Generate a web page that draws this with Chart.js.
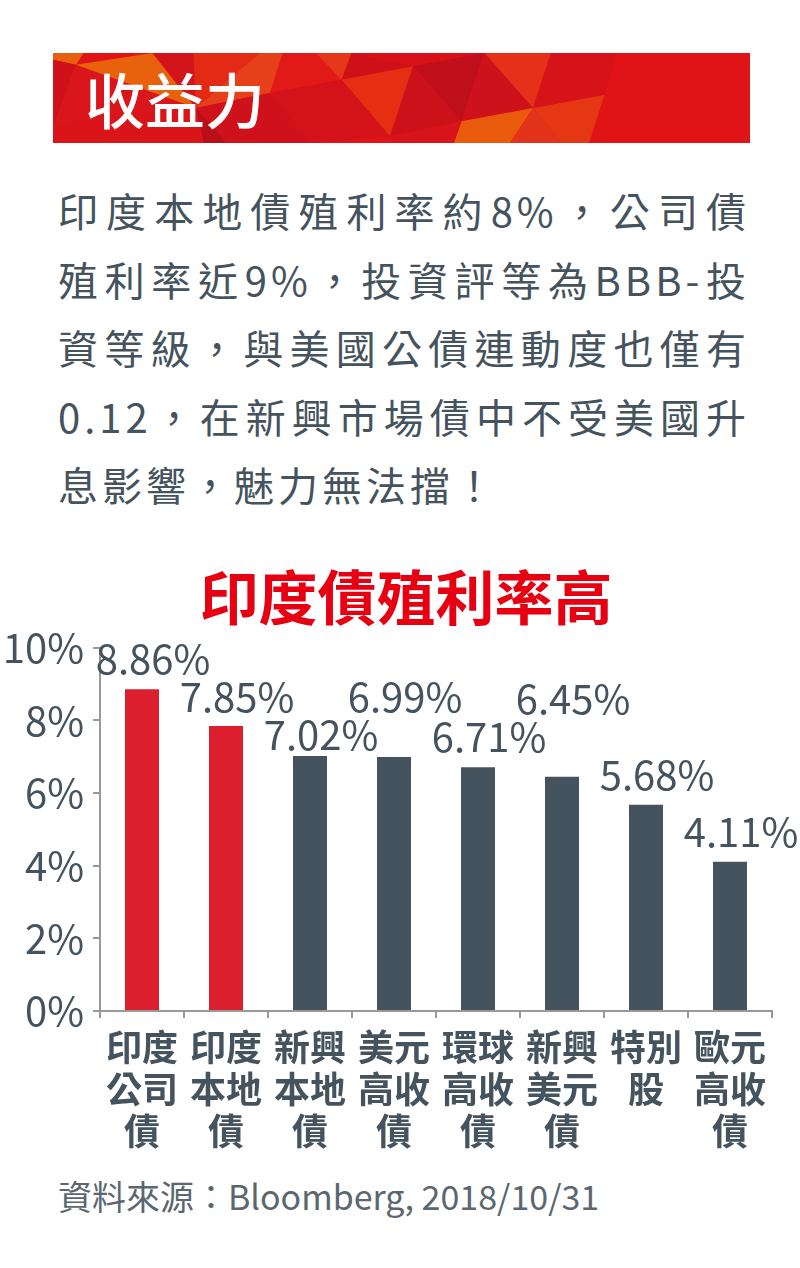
<!DOCTYPE html>
<html>
<head>
<meta charset="utf-8">
<script src="https://cdn.jsdelivr.net/npm/chart.js@4.4.0/dist/chart.umd.min.js"></script>
<style>
  body { margin:0; background:#fff; width:800px; height:1268px; position:relative; overflow:hidden;
         font-family:"Noto Sans CJK TC","Noto Sans",sans-serif; }
  #banner { position:absolute; left:53px; top:53px; width:697px; height:90px; }
  #banner svg { position:absolute; left:0; top:0; }
  #banner span { position:absolute; left:32px; top:8px; font-size:60px; line-height:74px; color:#fff; font-weight:500; }
  #intro { position:absolute; left:58px; top:176px; width:692px; color:#45535e; font-size:40px; line-height:68.5px; font-weight:400; }
  #intro div { text-align:justify; text-align-last:justify; letter-spacing:4px; }
  #intro div.last { text-align-last:left; }
  #chartBox { position:absolute; left:0; top:540px; width:800px; height:630px; }
  #source { position:absolute; left:58px; top:1171px; font-size:34px; color:#5b6770; }
</style>
</head>
<body>
<div id="banner">
  <svg width="697" height="90" viewBox="105 40 1365 270" preserveAspectRatio="none">
    <rect x="105" y="40" width="1365" height="270" fill="#e01317"/>
    <polygon points="105,40 165,40 150,75 105,60" fill="#e8600f"/>
    <polygon points="105,60 150,75 105,260" fill="#cf1119"/>
    <polygon points="150,75 385,205 105,260" fill="#d8161b"/>
    <polygon points="150,75 300,40 385,205" fill="#e8620e"/>
    <polygon points="300,40 380,40 385,205" fill="#d4141b"/>
    <polygon points="380,40 510,40 385,205" fill="#e32a14"/>
    <polygon points="510,40 555,40 530,160 385,205" fill="#e6401a"/>
    <polygon points="385,205 530,160 610,310 445,310" fill="#ce111a"/>
    <polygon points="385,205 445,310 400,310" fill="#b90f18"/>
    <polygon points="105,260 385,205 400,310 105,310" fill="#da1519"/>
    <polygon points="555,40 620,40 670,120 530,160" fill="#e11a17"/>
    <polygon points="620,40 690,40 670,120" fill="#e5381a"/>
    <polygon points="690,40 810,80 670,120" fill="#ce1019"/>
    <polygon points="670,120 810,80 765,290" fill="#e52e12"/>
    <polygon points="530,160 670,120 765,290 610,310" fill="#d31319"/>
    <polygon points="810,80 905,245 765,290" fill="#cd111a"/>
    <polygon points="690,40 950,40 810,80" fill="#d81118"/>
    <polygon points="810,80 950,40 905,245" fill="#bf0f1a"/>
    <polygon points="950,40 1080,40 1045,205" fill="#e5311a"/>
    <polygon points="950,40 1045,205 905,245" fill="#ce121b"/>
    <polygon points="905,245 1045,205 1000,310 890,310" fill="#e95a0d"/>
    <polygon points="765,290 905,245 890,310 770,310" fill="#d7141a"/>
    <polygon points="1045,205 1100,310 1000,310" fill="#e3331a"/>
    <polygon points="1045,205 1185,165 1155,310 1100,310" fill="#e53714"/>
    <polygon points="1080,40 1210,40 1185,165 1045,205" fill="#d7131a"/>
  </svg>
  <span>收益力</span>
</div>

<div id="intro">
  <div>印度本地債殖利率約8%，公司債</div>
  <div>殖利率近9%，投資評等為BBB-投</div>
  <div>資等級，與美國公債連動度也僅有</div>
  <div>0.12，在新興市場債中不受美國升</div>
  <div class="last">息影響，魅力無法擋！</div>
</div>

<div id="chartBox"><canvas id="chartYield" width="800" height="630"></canvas></div>
<div id="source">資料來源：Bloomberg, 2018/10/31</div>

<script>
// les donnees
const chartTitle = '印度債殖利率高';
const categories = [
    ['印度', '公司', '債'],
    ['印度', '本地', '債'],
    ['新興', '本地', '債'],
    ['美元', '高收', '債'],
    ['環球', '高收', '債'],
    ['新興', '美元', '債'],
    ['特別', '股'],
    ['歐元', '高收', '債']
];
const yields = [8.86, 7.85, 7.02, 6.99, 6.71, 6.45, 5.68, 4.11];
const yTicks = [0, 2, 4, 6, 8, 10];

const red = '#dc1f2e';
const slate = '#45535e';
const font = '"Noto Sans CJK TC", "Noto Sans", sans-serif';
let barColors = yields.map((v, i) => i < 2 ? red : slate);

// etiquettes au-dessus des barres, decalees si elles se chevauchent
const valueLabels = {
    id: 'valueLabels',
    afterDatasetsDraw(chart) {
        const ctx = chart.ctx;
        const bars = chart.getDatasetMeta(0).data;
        const row = 38;
        ctx.save();
        ctx.font = '40px ' + font;
        ctx.fillStyle = slate;
        ctx.textAlign = 'center';
        ctx.textBaseline = 'alphabetic';
        let prev = null;
        bars.forEach((bar, i) => {
            const text = yields[i].toFixed(2) + '%';
            const w = ctx.measureText(text).width;
            const x = bar.x + 11;
            let y = bar.y - 15;
            if (prev && Math.abs(prev.x - x) < (prev.w + w) / 2 && Math.abs(y - prev.y) < row) {
                // trop proche: on descend un peu ou on monte d'une ligne
                y = (y - prev.y > row / 2) ? prev.y + row : prev.y - row;
            }
            ctx.fillText(text, x, y);
            prev = {x: x, y: y, w: w};
        });
        ctx.restore();
    }
};

let ctxYield = document.getElementById('chartYield');
let chartYield = new Chart(ctxYield, {
    type: 'bar',
    data: {
        labels: categories,
        datasets: [{
            data: yields,
            backgroundColor: barColors,
            barPercentage: 0.405,
            categoryPercentage: 1
        }]
    },
    options: {
        responsive: false,
        animation: false,
        devicePixelRatio: 1,
        layout: { padding: { left: 40, right: 28, top: 0, bottom: 0 } },
        plugins: {
            legend: { display: false },
            tooltip: { enabled: false },
            title: {
                display: true,
                text: chartTitle,
                color: '#e60012',
                font: { size: 59, weight: 'bold', family: font },
                padding: { top: 22, bottom: 15 }
            }
        },
        scales: {
            y: {
                min: 0,
                max: 10,
                afterBuildTicks: (scale) => { scale.ticks = yTicks.map(v => ({ value: v })); },
                afterFit: (scale) => {
                    scale.width = 60;
                    // pas de decoupage des etiquettes qui depassent a gauche
                    scale._computeLabelArea = () => undefined;
                },
                border: { color: '#999', width: 2 },
                grid: { drawOnChartArea: false, color: '#999', lineWidth: 2, tickLength: 7 },
                ticks: {
                    color: slate,
                    padding: 9,
                    font: { size: 40, family: font },
                    callback: (v) => v + '%'
                }
            },
            x: {
                afterFit: (scale) => { scale.height = 159; },
                border: { color: '#999', width: 2 },
                grid: { drawOnChartArea: false, color: '#999', lineWidth: 2, tickLength: 7, offset: true },
                ticks: {
                    color: slate,
                    padding: 8,
                    maxRotation: 0,
                    autoSkip: false,
                    font: { size: 36, weight: 'bold', family: font, lineHeight: 1.17 }
                }
            }
        }
    },
    plugins: [valueLabels]
});
</script>
</body>
</html>
